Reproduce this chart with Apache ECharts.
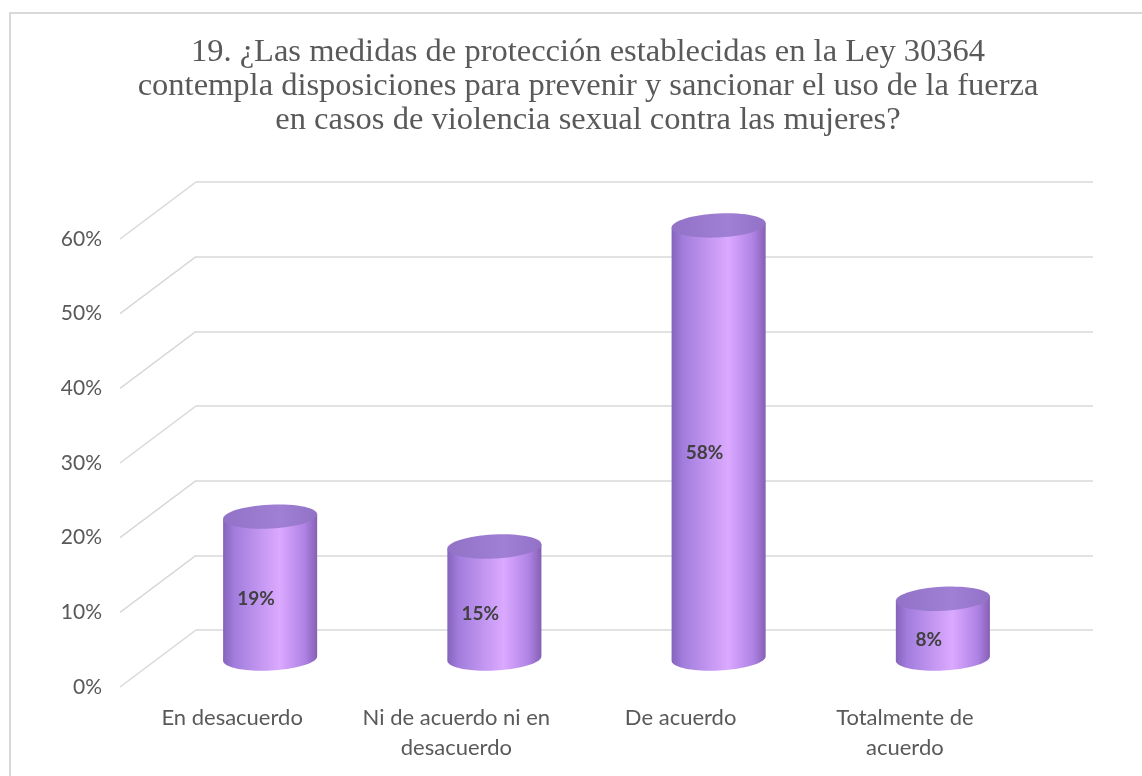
<!DOCTYPE html>
<html>
<head>
<meta charset="utf-8">
<script src="https://cdn.jsdelivr.net/npm/echarts@6/dist/echarts.min.js"></script>
<style>
  html, body { margin: 0; padding: 0; background: #ffffff; }
  #chart { width: 1142px; height: 776px; }
</style>
</head>
<body>
<div id="chart"></div>
<script>
// Survey question 19 — response shares
const titleLines = [
  '19. ¿Las medidas de protección establecidas en la Ley 30364',
  'contempla disposiciones para prevenir y sancionar el uso de la fuerza',
  'en casos de violencia sexual contra las mujeres?'
];
const categories = ['En desacuerdo', 'Ni de acuerdo ni en\ndesacuerdo', 'De acuerdo', 'Totalmente de\nacuerdo'];
const percentages = [19, 15, 58, 8];
const yTicks = [0, 10, 20, 30, 40, 50, 60];

// Pseudo-3D depth: shift from the front plane to the back wall
const DEPTH_X = 76;
const DEPTH_Y = -57;
const GRID_COLOR = '#d9d9d9';
const TEXT_COLOR = '#595959';
const SANS = 'Lato, "Open Sans", sans-serif';

const chart = echarts.init(document.getElementById('chart'), null, { renderer: 'canvas' });

// Points along a (slightly tilted) ellipse from angle `from` to `to`
function ellipsePoints(cx, cy, rx, ry, tilt, from, to, steps) {
  const pts = [];
  const c = Math.cos(tilt), s = Math.sin(tilt);
  const n = Math.max(steps, 1);
  for (let k = 0; k <= steps; k++) {
    const t = from + (to - from) * k / n;
    const dx = rx * Math.cos(t), dy = ry * Math.sin(t);
    pts.push([cx + dx * c - dy * s, cy + dx * s + dy * c]);
  }
  return pts;
}

function renderDepthLine(params, api) {
  const p = api.coord([0, api.value(1)]);
  const band = api.size([1, 0])[0];
  const x0 = p[0] - band / 2;
  return {
    type: 'line',
    shape: { x1: x0, y1: p[1], x2: x0 + DEPTH_X, y2: p[1] + DEPTH_Y },
    style: { stroke: GRID_COLOR, lineWidth: 1.5 },
    silent: true
  };
}

function renderCylinder(params, api) {
  const i = api.value(0);
  const v = api.value(1);
  const base = api.coord([i, 0]);
  const top = api.coord([i, v]);
  const band = api.size([1, 0])[0];
  const rx = band * 0.21;
  const ry = 12;
  const tilt = -0.05;
  const cx = base[0] + DEPTH_X / 2;
  const yb = base[1] + DEPTH_Y / 2;
  const yt = top[1] + DEPTH_Y / 2;

  // side wall: left edge, front half of the base ellipse, right edge
  const bodyPts = []
    .concat(ellipsePoints(cx, yt, rx, ry, tilt, Math.PI, Math.PI, 0))
    .concat(ellipsePoints(cx, yb, rx, ry, tilt, Math.PI, 0, 40))
    .concat(ellipsePoints(cx, yt, rx, ry, tilt, 0, 0, 0));
  const capPts = ellipsePoints(cx, yt, rx, ry, tilt, 0, Math.PI * 2, 60);

  const bodyFill = new echarts.graphic.LinearGradient(0, 0, 1, 0, [
    { offset: 0, color: '#8563bb' },
    { offset: 0.12, color: '#a27ddd' },
    { offset: 0.6, color: '#dba9ff' },
    { offset: 0.87, color: '#ae82e4' },
    { offset: 1, color: '#8560b4' }
  ]);
  const capFill = new echarts.graphic.LinearGradient(0, 0, 1, 0, [
    { offset: 0, color: '#9272c6' },
    { offset: 0.6, color: '#a080d4' },
    { offset: 1, color: '#9272c6' }
  ]);

  return {
    type: 'group',
    children: [
      { type: 'polygon', shape: { points: bodyPts }, style: { fill: bodyFill } },
      { type: 'polygon', shape: { points: capPts }, style: { fill: capFill } },
      {
        type: 'text',
        x: cx - 14,
        y: (yb + yt) / 2 + 11,
        style: {
          text: v + '%',
          fill: '#404040',
          font: 'bold 19px ' + SANS,
          align: 'center',
          verticalAlign: 'middle'
        }
      }
    ]
  };
}

const option = {
  backgroundColor: '#ffffff',
  animation: false,
  graphic: [
    {
      type: 'rect',
      shape: { x: 10, y: 13, width: 1300, height: 900 },
      style: { fill: 'none', stroke: GRID_COLOR, lineWidth: 2 },
      silent: true, z: -10
    },
    {
      type: 'text',
      x: 588,
      y: 35,
      style: {
        text: titleLines.join('\n'),
        fill: TEXT_COLOR,
        font: '32.5px "Liberation Serif", "Times New Roman", serif',
        lineHeight: 34,
        align: 'center'
      }
    }
  ],
  grid: [
    { left: 120, top: 239, width: 897, height: 448 },
    { left: 120 + DEPTH_X, top: 239 + DEPTH_Y, width: 897, height: 448 }
  ],
  xAxis: [
    {
      type: 'category', gridIndex: 0, data: categories,
      axisLine: { show: false }, axisTick: { show: false },
      axisLabel: { color: TEXT_COLOR, fontFamily: SANS, fontSize: 22, lineHeight: 30, margin: 16, interval: 0 }
    },
    {
      type: 'category', gridIndex: 1, data: categories,
      axisLine: { show: false }, axisTick: { show: false }, axisLabel: { show: false }
    }
  ],
  yAxis: [
    {
      type: 'value', gridIndex: 0,
      min: yTicks[0], max: yTicks[yTicks.length - 1], interval: yTicks[1] - yTicks[0],
      axisLine: { show: false }, axisTick: { show: false }, splitLine: { show: false },
      axisLabel: { color: TEXT_COLOR, fontFamily: SANS, fontSize: 21, margin: 18, formatter: '{value}%' }
    },
    {
      type: 'value', gridIndex: 1,
      min: yTicks[0], max: yTicks[yTicks.length - 1], interval: yTicks[1] - yTicks[0],
      axisLine: { show: false }, axisTick: { show: false }, axisLabel: { show: false },
      splitLine: { show: true, lineStyle: { color: GRID_COLOR, width: 1.5 } }
    }
  ],
  series: [
    {
      type: 'custom', name: 'depth', xAxisIndex: 0, yAxisIndex: 0,
      renderItem: renderDepthLine, clip: false, silent: true,
      data: yTicks.map(t => [0, t]), z: 1
    },
    {
      type: 'custom', name: 'Porcentaje', xAxisIndex: 0, yAxisIndex: 0,
      renderItem: renderCylinder, clip: false,
      data: percentages.map((p, i) => [i, p]), z: 5
    }
  ]
};

chart.setOption(option);
</script>
</body>
</html>
